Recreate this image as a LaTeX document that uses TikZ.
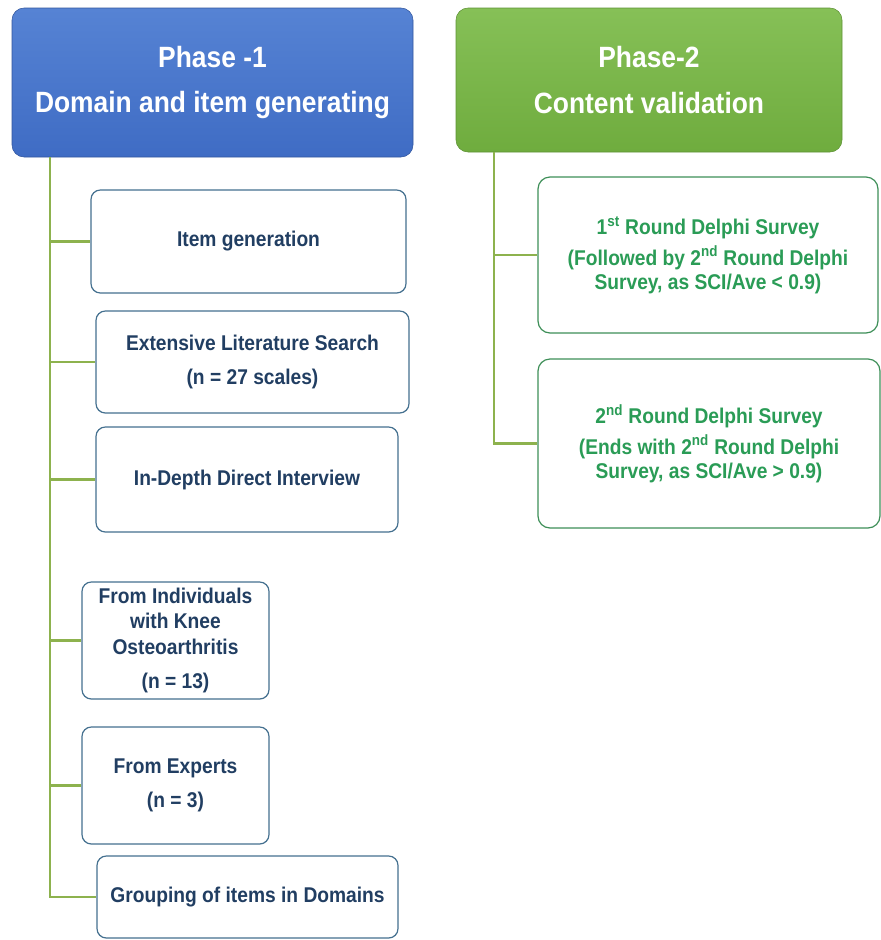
\documentclass[tikz,border=0pt]{standalone}
\usepackage{fontspec}
\setmainfont{Liberation Sans}[FakeStretch=0.9]
\definecolor{phaseblue}{HTML}{3F6CC4}
\definecolor{phasebluetop}{HTML}{5683D4}
\definecolor{phasegreen}{HTML}{6FAC3E}
\definecolor{phasegreentop}{HTML}{86C057}
\definecolor{leftline}{HTML}{44708F}
\definecolor{lefttext}{HTML}{213E62}
\definecolor{rightline}{HTML}{3E8F58}
\definecolor{righttext}{HTML}{2A9C56}
\definecolor{branchgreen}{HTML}{8DB24E}
\begin{document}
\begin{tikzpicture}[x=0.75pt,y=-0.75pt,
    phase1/.style={rounded corners=9pt, draw=phaseblue!80!black, thin, top color=phasebluetop, bottom color=phaseblue, text=white, font=\bfseries\fontsize{22}{26}\selectfont, align=center, minimum width=300.75pt, minimum height=111.75pt},
    phase2/.style={rounded corners=9pt, draw=phasegreen!85!black, thin, top color=phasegreentop, bottom color=phasegreen, text=white, font=\bfseries\fontsize{22}{26}\selectfont, align=center, minimum width=289.5pt, minimum height=108pt},
    leftbox/.style={rounded corners=7pt, draw=leftline, line width=0.9pt, fill=white, text=lefttext, font=\bfseries\fontsize{16}{19}\selectfont, align=center},
    rightbox/.style={rounded corners=9pt, draw=rightline, line width=0.9pt, fill=white, text=righttext, font=\bfseries\fontsize{16}{18}\selectfont, align=center},
    branch/.style={draw=branchgreen, line width=1.8pt}]

\useasboundingbox (0,0) rectangle (881,940);

% phase headers
\node[phase1] (p1) at (212.5,82.5) {Phase -1\\[8pt]Domain and item generating};
\node[phase2] (p2) at (649,80) {Phase-2\\[8pt]Content validation};

% phase 1 boxes
\node[leftbox, minimum width=236.25pt, minimum height=77.25pt] (item) at (248.5,241.5) {Item generation};
\node[leftbox, minimum width=234.75pt, minimum height=76.5pt] (lit) at (252.5,362) {Extensive Literature Search\\[7pt](n = 27 scales)};
\node[leftbox, minimum width=226.5pt, minimum height=78.75pt] (interview) at (247,479.5) {In-Depth Direct Interview};
\node[leftbox, minimum width=140.25pt, minimum height=87.75pt] (indiv) at (175.5,640.5) {From Individuals\\with Knee\\Osteoarthritis\\[7pt](n = 13)};
\node[leftbox, minimum width=140.25pt, minimum height=87.75pt] (experts) at (175.5,785.5) {From Experts\\[7pt](n = 3)};
\node[leftbox, minimum width=225.75pt, minimum height=61.5pt] (group) at (247.5,897) {Grouping of items in Domains};

% phase 2 boxes
\node[rightbox, minimum width=255pt, minimum height=117pt] (round1) at (708,255) {1\textsuperscript{st} Round Delphi Survey\\[5pt](Followed by 2\textsuperscript{nd} Round Delphi\\Survey, as SCI/Ave < 0.9)};
\node[rightbox, minimum width=256.5pt, minimum height=126.75pt] (round2) at (709,443.5) {2\textsuperscript{nd} Round Delphi Survey\\[5pt](Ends with 2\textsuperscript{nd} Round Delphi\\Survey, as SCI/Ave > 0.9)};

% connectors
\coordinate (trunk1) at (50,157);
\coordinate (trunk2) at (494,152);
\draw[branch] (trunk1) |- (group.west);
\foreach \n in {item,lit,interview,indiv,experts}
  \draw[branch] (trunk1 |- \n.west) -- (\n.west);
\draw[branch] (trunk2) |- (round2.west);
\draw[branch] (trunk2 |- round1.west) -- (round1.west);

\end{tikzpicture}
\end{document}
